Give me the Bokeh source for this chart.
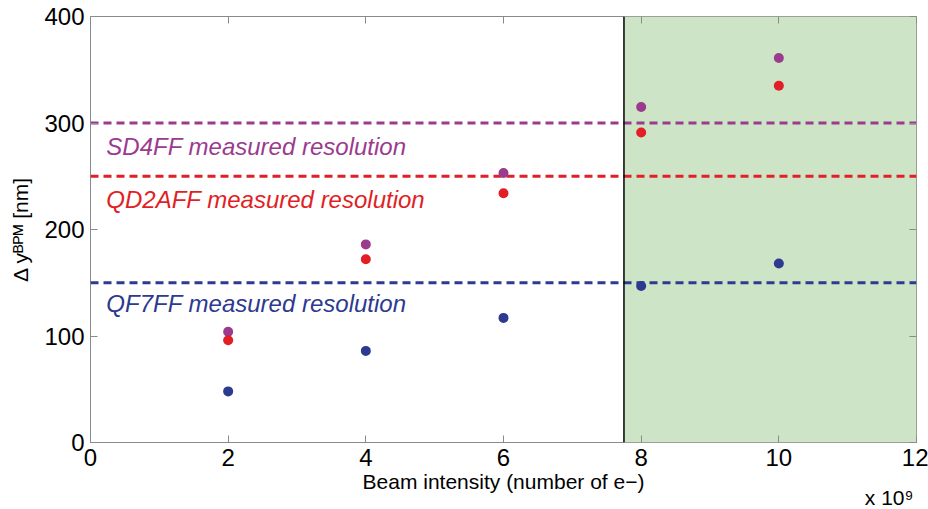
from bokeh.plotting import figure
from bokeh.models import Range1d, LinearAxis, FixedTicker, Label, Title
from bokeh.embed import file_html
from bokeh.resources import INLINE

# ---- data ----
intensity = [2, 4, 6, 8, 10]            # x 10^9 electrons
sd4ff = [104, 186, 253, 315, 361]       # nm
qd2aff = [96, 172, 234, 291, 335]       # nm
qf7ff = [48, 86, 117, 147, 168]         # nm
resolution_names = ["SD4FF", "QD2AFF", "QF7FF"]
resolution_values = [300, 250, 150]     # nm
label_y = [278, 228, 130.5]             # where each line's caption sits
threshold_x = 7.75
x_ticks = [0, 2, 4, 6, 8, 10, 12]
y_ticks = [0, 100, 200, 300, 400]
x_title = "Beam intensity (number of e\u2212)"
y_title = "\u0394 y\u1d2e\u1d3e\u1d39 [nm]"
x_multiplier = "x 10\u2079"

PURPLE = "#9b3b8e"
RED = "#e11f26"
BLUE = "#2c3a8f"
GREEN = "#cde4c7"
FRAME = "#8a8a8a"
FONT = "Liberation Sans"

xmin, xmax, ymin, ymax = 0, 12, 0, 400

p = figure(width=928, height=509, output_backend="svg", toolbar_location=None,
           x_range=Range1d(xmin, xmax), y_range=Range1d(ymin, ymax),
           min_border_left=90, min_border_right=12, min_border_top=16, min_border_bottom=67)
p.xgrid.visible = False
p.ygrid.visible = False
p.outline_line_color = FRAME
p.outline_line_width = 1
p.background_fill_color = "white"
p.border_fill_color = "white"

# shaded region
p.quad(left=[threshold_x], right=[xmax], bottom=[ymin], top=[ymax],
       fill_color=GREEN, line_color=None)

# resolution lines
colors = [PURPLE, RED, BLUE]
for val, col in zip(resolution_values, colors):
    p.segment(x0=[xmin], x1=[xmax], y0=[val], y1=[val], line_color=col,
              line_width=3, line_dash="8 5")

# threshold vertical line
p.segment(x0=[threshold_x], x1=[threshold_x], y0=[ymin], y1=[ymax],
          line_color="black", line_width=1.5)

# points
p.scatter(intensity, sd4ff, size=10, fill_color=PURPLE, line_color=None)
p.scatter(intensity, qd2aff, size=10, fill_color=RED, line_color=None)
p.scatter(intensity, qf7ff, size=10, fill_color=BLUE, line_color=None)

# ---- axes ----
def base_style(ax, ticks):
    ax.ticker = FixedTicker(ticks=ticks)
    ax.axis_line_color = None
    ax.major_tick_line_color = FRAME
    ax.major_tick_in = 7
    ax.major_tick_out = 0
    ax.minor_tick_line_color = None

xa = p.xaxis[0]
base_style(xa, x_ticks)
xa.major_label_text_font = FONT
xa.major_label_text_font_size = "24px"
xa.major_label_text_color = "black"
xa.major_label_standoff = 6

ya = p.yaxis[0]
base_style(ya, y_ticks)
ya.major_label_text_font = FONT
ya.major_label_text_font_size = "24px"
ya.major_label_text_color = "black"
ya.major_label_standoff = 6
ya.axis_label = y_title
ya.axis_label_text_font = FONT
ya.axis_label_text_font_size = "21px"
ya.axis_label_text_font_style = "normal"
ya.axis_label_text_color = "black"
ya.axis_label_standoff = 9

top_ax = LinearAxis()
right_ax = LinearAxis()
base_style(top_ax, x_ticks)
base_style(right_ax, y_ticks)
top_ax.major_label_overrides = {t: "" for t in x_ticks}
right_ax.major_label_overrides = {t: "" for t in y_ticks}
for ax in (top_ax, right_ax):
    ax.major_label_text_font_size = "8px"
    ax.major_label_standoff = 0
p.add_layout(top_ax, "above")
p.add_layout(right_ax, "right")

# ---- x axis title and multiplier (side titles, not clipped) ----
p.add_layout(Title(text=x_title, align="center",
                   text_font=FONT, text_font_size="21px", text_font_style="normal",
                   text_color="black", standoff=-1), "below")
p.add_layout(Title(text=x_multiplier, align="right", offset=3, vertical_align="middle",
                   text_font=FONT, text_font_size="21px", text_font_style="normal",
                   text_color="black", standoff=-16), "below")

# ---- line captions ----
for name, col, ly in zip(resolution_names, colors, label_y):
    p.add_layout(Label(x=0.23, y=ly, text=f"{name} measured resolution",
                       text_color=col, text_font=FONT, text_font_size="24px",
                       text_font_style="italic", text_baseline="middle", text_align="left"))

open("out.html", "w").write(file_html(p, INLINE))
